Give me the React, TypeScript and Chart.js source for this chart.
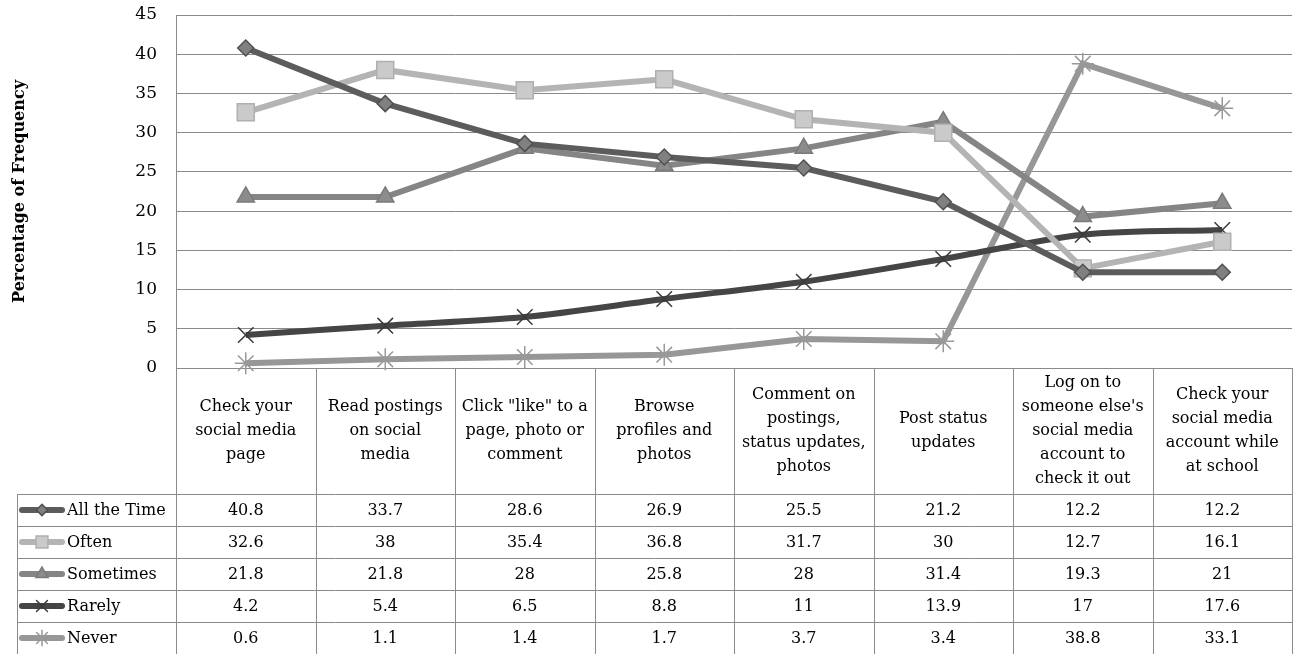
import React, { useEffect, useRef } from "react";
import { Chart, registerables } from "chart.js";
import { drawPoint } from "chart.js/helpers";

Chart.register(...registerables);

const categories: string[][] = [
  ["Check your", "social media", "page"],
  ["Read postings", "on social", "media"],
  ['Click "like" to a', "page, photo or", "comment"],
  ["Browse", "profiles and", "photos"],
  ["Comment on", "postings,", "status updates,", "photos"],
  ["Post status", "updates"],
  ["Log on to", "someone else's", "social media", "account to", "check it out"],
  ["Check your", "social media", "account while", "at school"],
];

const allTheTime = [40.8, 33.7, 28.6, 26.9, 25.5, 21.2, 12.2, 12.2];
const often = [32.6, 38, 35.4, 36.8, 31.7, 30, 12.7, 16.1];
const sometimes = [21.8, 21.8, 28, 25.8, 28, 31.4, 19.3, 21];
const rarely = [4.2, 5.4, 6.5, 8.8, 11, 13.9, 17, 17.6];
const never = [0.6, 1.1, 1.4, 1.7, 3.7, 3.4, 38.8, 33.1];

const yTitle = "Percentage of Frequency";
const yMin = 0;
const yMax = 45;
const yStep = 5;

const FONT = "'DejaVu Serif', serif";

const seriesDefs = [
  { label: "All the Time", data: allTheTime, line: "#5c5c5c", fill: "#808080", border: "#505050", style: "rectRot", radius: 8, tension: 0 },
  { label: "Often", data: often, line: "#b4b4b4", fill: "#cacaca", border: "#b0b0b0", style: "rect", radius: 12, tension: 0 },
  { label: "Sometimes", data: sometimes, line: "#858585", fill: "#8c8c8c", border: "#7a7a7a", style: "triangle", radius: 10, tension: 0 },
  { label: "Rarely", data: rarely, line: "#454545", fill: "#3a3a3a", border: "#3a3a3a", style: "crossRot", radius: 11, tension: 0.3 },
  { label: "Never", data: never, line: "#979797", fill: "#999999", border: "#999999", style: "star", radius: 11, tension: 0 },
];

const TABLE_BOTTOM = 654;
const HEADER_BOTTOM = 494;
const ROW_H = 32;
const LEGEND_LEFT = 17;

const tablePlugin = {
  id: "dataTable",
  afterDraw(chart: any) {
    const ctx = chart.ctx as CanvasRenderingContext2D;
    const area = chart.chartArea;
    const xs = chart.scales.x;
    const n = categories.length;
    const colW = (area.right - area.left) / n;
    const bounds: number[] = [];
    for (let i = 0; i <= n; i++) bounds.push(xs.getPixelForValue(0) - colW / 2 + i * colW);

    ctx.save();
    ctx.strokeStyle = "#8a8a8a";
    ctx.lineWidth = 1;
    for (let i = 0; i <= n; i++) {
      const x = Math.round(bounds[i]) + 0.5;
      ctx.beginPath();
      ctx.moveTo(x, area.bottom);
      ctx.lineTo(x, TABLE_BOTTOM);
      ctx.stroke();
    }
    ctx.beginPath();
    ctx.moveTo(LEGEND_LEFT + 0.5, HEADER_BOTTOM);
    ctx.lineTo(LEGEND_LEFT + 0.5, TABLE_BOTTOM);
    ctx.stroke();
    for (let r = 0; r <= seriesDefs.length; r++) {
      const y = HEADER_BOTTOM + r * ROW_H + 0.5;
      ctx.beginPath();
      ctx.moveTo(LEGEND_LEFT, y);
      ctx.lineTo(bounds[n], y);
      ctx.stroke();
    }

    ctx.fillStyle = "#000";
    ctx.font = `16px ${FONT}`;
    ctx.textAlign = "center";
    ctx.textBaseline = "middle";
    const headerMid = (area.bottom + HEADER_BOTTOM) / 2;
    const lh = 24;
    categories.forEach((lines, i) => {
      const cx = (bounds[i] + bounds[i + 1]) / 2;
      const y0 = headerMid - ((lines.length - 1) * lh) / 2;
      lines.forEach((t, k) => ctx.fillText(t, cx, y0 + k * lh));
    });

    seriesDefs.forEach((s, r) => {
      const cy = HEADER_BOTTOM + r * ROW_H + ROW_H / 2;
      ctx.textAlign = "center";
      ctx.fillStyle = "#000";
      s.data.forEach((v, i) => {
        const cx = (bounds[i] + bounds[i + 1]) / 2;
        ctx.fillText(String(v), cx, cy + 1);
      });
      ctx.strokeStyle = s.line;
      ctx.lineWidth = 6;
      ctx.lineCap = "round";
      ctx.beginPath();
      ctx.moveTo(22, cy);
      ctx.lineTo(62, cy);
      ctx.stroke();
      ctx.fillStyle = s.fill;
      ctx.strokeStyle = s.border;
      ctx.lineWidth = 1.5;
      drawPoint(ctx, { pointStyle: s.style, radius: s.radius * 0.7, rotation: 0, borderWidth: 1.5 } as any, 42, cy);
      ctx.fillStyle = "#000";
      ctx.textAlign = "left";
      ctx.fillText(s.label, 67, cy + 1);
    });

    ctx.save();
    ctx.translate(20, (area.top + area.bottom) / 2);
    ctx.rotate(-Math.PI / 2);
    ctx.font = `bold 16px ${FONT}`;
    ctx.textAlign = "center";
    ctx.textBaseline = "middle";
    ctx.fillStyle = "#000";
    ctx.fillText(yTitle, 0, 0);
    ctx.restore();

    ctx.restore();
  },
};

export default function App() {
  const ref = useRef<HTMLCanvasElement | null>(null);
  useEffect(() => {
    if (!ref.current) return;
    const chart = new Chart(ref.current, {
      type: "line",
      data: {
        labels: categories,
        datasets: seriesDefs.map((s) => ({
          label: s.label,
          data: s.data,
          borderColor: s.line,
          backgroundColor: s.fill,
          borderWidth: 6,
          pointStyle: s.style as any,
          pointRadius: s.radius,
          pointBackgroundColor: s.fill,
          pointBorderColor: s.border,
          pointBorderWidth: 1.5,
          tension: s.tension,
          fill: false,
          clip: false,
        })),
      },
      options: {
        responsive: false,
        animation: false,
        layout: { autoPadding: false, padding: { left: 0, right: 5, top: 15, bottom: 286 } },
        plugins: { legend: { display: false }, tooltip: { enabled: false } },
        scales: {
          x: { type: "category", offset: true, display: false },
          y: {
            min: yMin,
            max: yMax,
            ticks: { stepSize: yStep, color: "#000", font: { family: FONT, size: 17 }, padding: 19 },
            grid: { color: "#8a8a8a", drawTicks: false },
            border: { display: true, color: "#8a8a8a" },
            afterFit: (s: any) => {
              s.width = 176;
              s.paddingTop = 0;
              s.paddingBottom = 0;
            },
          },
        },
      },
      plugins: [tablePlugin],
    });
    return () => chart.destroy();
  }, []);
  return (
    <div style={{ position: "fixed", left: 0, top: 0, width: 1297, height: 654, background: "#fff" }}>
      <canvas ref={ref} width={1297} height={654} />
    </div>
  );
}
